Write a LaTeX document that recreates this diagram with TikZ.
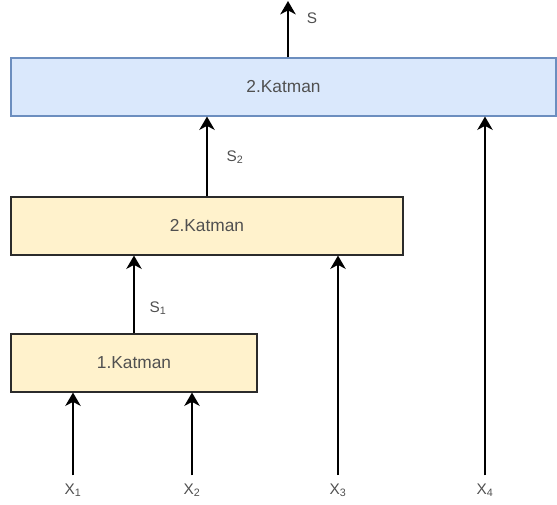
\documentclass[tikz,border=0pt]{standalone}
\usepackage{fontspec}
\setmainfont{Liberation Sans}
\usetikzlibrary{arrows.meta}
\definecolor{layerblue}{HTML}{DAE8FC}
\definecolor{layerblueline}{HTML}{6C8EBF}
\definecolor{layeryellow}{HTML}{FFF2CC}
\definecolor{layerline}{HTML}{2B2B2B}
\definecolor{labelgray}{HTML}{505050}

\begin{document}
\begin{tikzpicture}[x=.75pt,y=-.75pt,
        layer/.style={draw,line width=.8pt,minimum height=43.5pt,inner sep=0pt,
            text=labelgray,font=\fontsize{13}{15}\selectfont},
        link/.style={-{Stealth[length=10pt,width=11.5pt,inset=3pt]},line width=1.9pt},
        sig/.style={text=labelgray,font=\fontsize{11.5}{13}\selectfont,inner sep=0pt}]
    \useasboundingbox (0,0) rectangle (557,504);
    % \draw[step=50,color=gray!40] (0,0) grid (557,504);
    \foreach \x/\y/\w/\fc/\lc/\name/\txt in {283.5/87/408.75/layerblue/layerblueline/k3/2.Katman,
            207/226/294/layeryellow/layerline/k2/2.Katman,
            134/363/184.5/layeryellow/layerline/k1/1.Katman}{
        \node[layer,fill=\fc,draw=\lc,minimum width=\w pt,name=\name] at (\x,\y) {\txt};
    }
    \foreach \x/\i in {73/1,192/2,338/3,485/4}{
        \node[sig,name=x\i] at (\x,490) {X\textsubscript{\i}};
    }
    \coordinate (out) at (288,1);
    \foreach \from/\to in {x1/k1,x2/k1,x3/k2,x4/k3}{
        \draw[link,shorten <=6pt] (\from.north) -- (\from.north |- \to.south);
    }
    \foreach \from/\to in {k1/k2,k2/k3}{
        \draw[link] (\from.north) -- (\from.north |- \to.south);
    }
    \draw[link] (k3.north -| out) -- (out);
    \node[sig] (s) at (312,18) {S};
    \node[sig] (s1) at (158,308) {S\textsubscript{1}};
    \node[sig] (s2) at (235,157) {S\textsubscript{2}};
\end{tikzpicture}
\end{document}
